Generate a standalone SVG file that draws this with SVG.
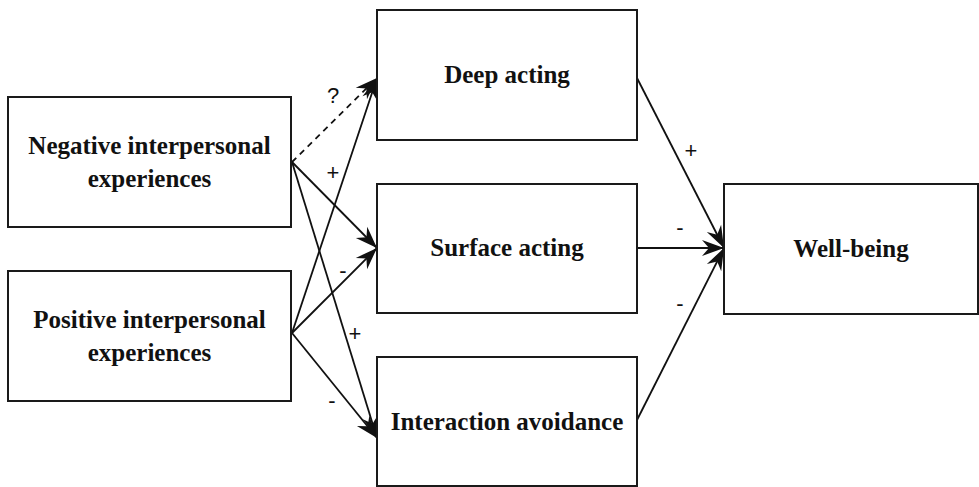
<svg xmlns="http://www.w3.org/2000/svg" width="979" height="487" viewBox="0 0 979 487">
<style>
.box{fill:#fff;stroke:#1a1a1a;stroke-width:2}
.lbl{font-family:"Liberation Serif","Times New Roman",serif;font-weight:bold;font-size:25px;fill:#111;text-anchor:middle}
.sgn{font-family:"Liberation Sans",Arial,sans-serif;font-size:22px;fill:#111;text-anchor:middle}
.ln{stroke:#111;stroke-width:1.8;fill:none}
.dash{stroke-dasharray:6 5}
</style>
<defs>
<marker id="ah" markerUnits="userSpaceOnUse" markerWidth="26" markerHeight="20" viewBox="-24 -10 26 20" refX="0" refY="0" orient="auto">
<path d="M0,0 L-22,-8 L-15,0 L-22,8 Z" fill="#111"/>
</marker>
</defs>
<g id="connectors">
<line class="ln dash" x1="292" y1="162" x2="377" y2="78" marker-end="url(#ah)"/>
<line class="ln" x1="292" y1="162" x2="377" y2="248" marker-end="url(#ah)"/>
<line class="ln" x1="292" y1="162" x2="377" y2="438" marker-end="url(#ah)"/>
<line class="ln" x1="292" y1="333" x2="377" y2="78" marker-end="url(#ah)"/>
<line class="ln" x1="292" y1="333" x2="377" y2="248" marker-end="url(#ah)"/>
<line class="ln" x1="292" y1="333" x2="377" y2="438" marker-end="url(#ah)"/>
<line class="ln" x1="637" y1="78" x2="724" y2="248" marker-end="url(#ah)"/>
<line class="ln" x1="637" y1="248" x2="724" y2="248" marker-end="url(#ah)"/>
<line class="ln" x1="637" y1="420" x2="724" y2="248" marker-end="url(#ah)"/>
<text class="sgn" x="333" y="103">?</text>
<text class="sgn" x="333" y="180">+</text>
<text class="sgn" x="343" y="278">-</text>
<text class="sgn" x="355" y="341">+</text>
<text class="sgn" x="332" y="408">-</text>
<text class="sgn" x="691" y="158">+</text>
<text class="sgn" x="680" y="235">-</text>
<text class="sgn" x="680" y="311">-</text>
</g>
<g id="negative">
<rect class="box" x="8" y="97" width="283" height="130"/>
<text class="lbl" x="149.5" y="154">Negative interpersonal</text>
<text class="lbl" x="149.5" y="187">experiences</text>
</g>
<g id="positive">
<rect class="box" x="8" y="271" width="283" height="130"/>
<text class="lbl" x="149.5" y="328">Positive interpersonal</text>
<text class="lbl" x="149.5" y="361">experiences</text>
</g>
<g id="deep">
<rect class="box" x="377" y="10" width="260" height="130"/>
<text class="lbl" x="507" y="83">Deep acting</text>
</g>
<g id="surface">
<rect class="box" x="377" y="184" width="260" height="129"/>
<text class="lbl" x="507" y="256">Surface acting</text>
</g>
<g id="avoidance">
<rect class="box" x="377" y="357" width="260" height="129"/>
<text class="lbl" x="507" y="430">Interaction avoidance</text>
</g>
<g id="wellbeing">
<rect class="box" x="724" y="184" width="254" height="130"/>
<text class="lbl" x="851" y="257">Well-being</text>
</g>
</svg>
